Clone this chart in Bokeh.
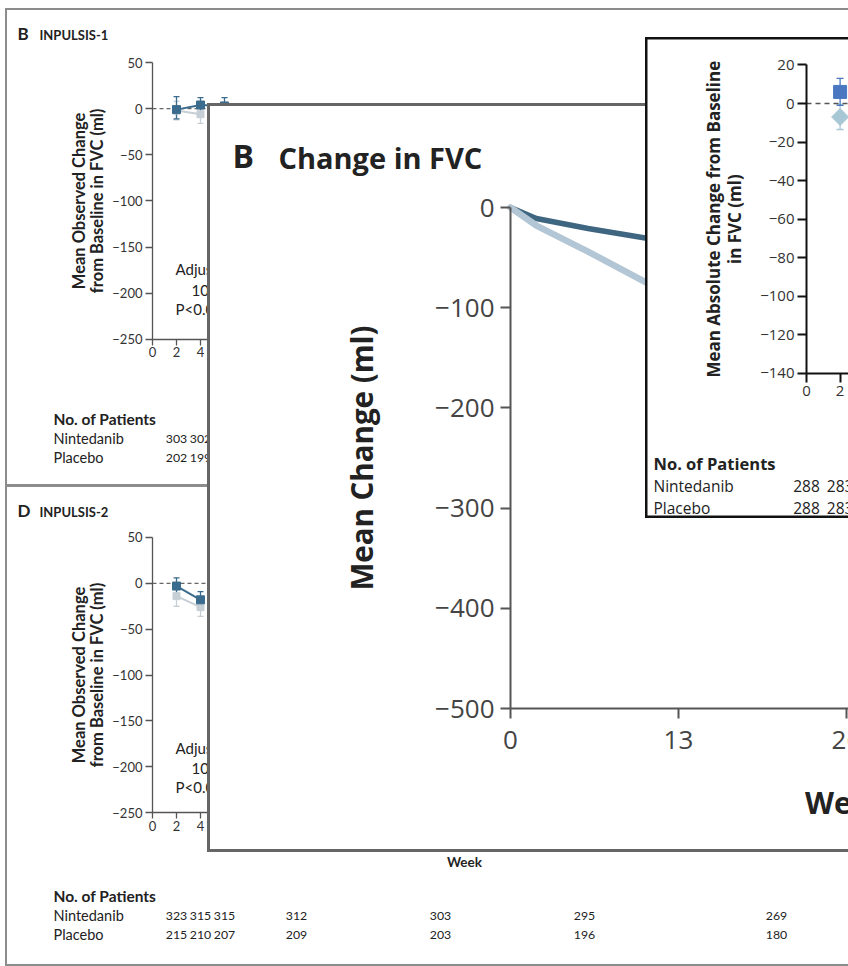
import math
from bokeh.plotting import figure
from bokeh.models import (LinearAxis, FixedTicker, Range1d, ColumnDataSource,
                          Whisker, TeeHead, Column)
from bokeh.embed import file_html
from bokeh.resources import INLINE
from bokeh.core.properties import value

# ---------------- data ----------------
# Panel B, INPULSIS-1 (top left)
b_nin_weeks = [2, 4, 6]
b_nin = [-1, 4, 3]
b_nin_lo = [-11, -4, -6]
b_nin_hi = [13, 12, 12]
b_pbo_weeks = [2, 4]
b_pbo = [-2, -6]
b_pbo_lo = [-12, -16]
b_pbo_hi = [8, 4]
b_count_weeks = [2, 4]
b_count_nin = ["303", "302"]
b_count_pbo = ["202", "199"]

# Panel D, INPULSIS-2 (bottom left)
d_weeks = [2, 4]
d_nin = [-3, -18]
d_nin_lo = [-12, -27]
d_nin_hi = [6, -9]
d_pbo = [-14, -26]
d_pbo_lo = [-25, -36]
d_pbo_hi = [-3, -15]
d_count_weeks = [2, 4, 6, 12, 24, 36, 52]
d_count_nin = ["323", "315", "315", "312", "303", "295", "269"]
d_count_pbo = ["215", "210", "207", "209", "203", "196", "180"]

left_x_ticks = [0, 2, 4, 6, 12, 24, 36, 52]
left_y_ticks = [50, 0, -50, -100, -150, -200, -250]

# Main panel "Change in FVC"
main_weeks = [0, 2, 6, 13, 26, 39, 52]
main_nin = [0, -11, -21, -36, -62, -88, -114]
main_pbo = [0, -18, -44, -92, -178, -262, -345]
main_x_ticks = [0, 13, 26, 39, 52]
main_y_ticks = [0, -100, -200, -300, -400, -500]

# Inset panel
inset_weeks = [2]
inset_nin = [6]
inset_nin_lo = [-1]
inset_nin_hi = [13]
inset_pbo = [-7]
inset_pbo_lo = [-13.5]
inset_pbo_hi = [-0.5]
inset_count_weeks = [0, 2]
inset_count_nin = ["288", "283"]
inset_count_pbo = ["288", "283"]
inset_x_ticks = [0, 2, 4, 6, 12, 24, 36, 52]
inset_y_ticks = [20, 0, -20, -40, -60, -80, -100, -120, -140]

DARK = "#3b6b8d"
LIGHT = "#c6cfd6"
MAIN_DARK = "#3f6680"
MAIN_LIGHT = "#b3c6d5"
INSET_NIN = "#4a78c0"
INSET_PBO = "#a8c7d5"

PAGE_W = 848


def minus(v):
    return str(v).replace("-", "\u2212")


class Panel:
    def __init__(self, left, top, width, height, x0, xs, y0, ys, border, bw):
        self.x0, self.xs, self.y0, self.ys = x0, xs, y0, ys
        xr = Range1d((left - x0) / xs, (left + width - x0) / xs)
        yr = Range1d((y0 - (top + height)) / ys, (y0 - top) / ys)
        p = figure(width=width, height=height, x_range=xr, y_range=yr,
                   x_axis_type=None, y_axis_type=None, output_backend="svg",
                   toolbar_location=None, min_border=0)
        p.outline_line_color = border
        p.outline_line_width = bw
        p.background_fill_color = "white"
        p.border_fill_color = "white"
        p.styles = {"position": "absolute", "left": f"{left}px", "top": f"{top}px",
                    "max-width": "none"}
        self.p = p

    def dx(self, px):
        return (px - self.x0) / self.xs

    def dy(self, py):
        return (self.y0 - py) / self.ys

    def text(self, px, py, s, font, size, bold=False, align="left", color="#222", angle=0.0):
        self.p.text(x=[self.dx(px)], y=[self.dy(py)], text=[s], text_font=value(font),
                    text_font_size=value(f"{size}px"),
                    text_font_style="bold" if bold else "normal",
                    text_align=align, text_baseline="middle", text_color=color, angle=angle)

    def vtext(self, px, y, s, font, size):
        self.p.text(x=[self.dx(px)], y=[y], text=[s], text_font=value(font),
                    text_font_size=value(f"{size}px"), text_font_style="bold",
                    text_align="center", text_baseline="middle", text_color="#222",
                    angle=math.pi / 2)

    def htext(self, x, py, s, font, size):
        self.p.text(x=[x], y=[self.dy(py)], text=[s], text_font=value(font),
                    text_font_size=value(f"{size}px"), text_font_style="bold",
                    text_align="center", text_baseline="middle", text_color="#222")

    def row(self, weeks, py, labels, font, size):
        self.p.text(x=weeks, y=[self.dy(py)] * len(weeks), text=labels, text_font=value(font),
                    text_font_size=value(f"{size}px"), text_align="center",
                    text_baseline="middle", text_color="#222")

    def axes(self, xticks, yticks, font, size, color, line_color, lw, tick_x, tick_y,
             so_x, so_y, xlabel="", xlabel_size=12, xlabel_so=10, ylabel="",
             ylabel_size=12, ylabel_so=10):
        xa = LinearAxis(fixed_location=yticks[-1], bounds=(xticks[0], xticks[-1]),
                        ticker=FixedTicker(ticks=xticks),
                        major_label_overrides={t: minus(t) for t in xticks})
        ya = LinearAxis(fixed_location=xticks[0], bounds=(yticks[-1], yticks[0]),
                        ticker=FixedTicker(ticks=yticks),
                        major_label_overrides={t: minus(t) for t in yticks})
        for ax, tk, so in ((xa, tick_x, so_x), (ya, tick_y, so_y)):
            ax.axis_line_color = line_color
            ax.axis_line_width = lw
            ax.major_tick_line_color = line_color
            ax.major_tick_line_width = lw
            ax.major_tick_out = tk
            ax.major_tick_in = 0
            ax.minor_tick_out = 0
            ax.minor_tick_in = 0
            ax.major_label_standoff = so
            ax.major_label_text_font = font
            ax.major_label_text_font_size = f"{size}px"
            ax.major_label_text_color = color
            ax.axis_label_text_font = font
            ax.axis_label_text_font_style = "bold"
            ax.axis_label_text_color = "#222"
        xa.axis_label = xlabel
        xa.axis_label_text_font_size = f"{xlabel_size}px"
        xa.axis_label_standoff = xlabel_so
        ya.axis_label = ylabel
        ya.axis_label_text_font_size = f"{ylabel_size}px"
        ya.axis_label_standoff = ylabel_so
        self.p.add_layout(xa, "below")
        self.p.add_layout(ya, "left")

    def series(self, weeks, y, lo, hi, color, marker, size, lw=2.0, cap=6, angle=0.0,
               line=True):
        src = ColumnDataSource(dict(x=weeks, y=y, lo=lo, hi=hi))
        w = Whisker(source=src, base="x", lower="lo", upper="hi", dimension="height",
                    line_color=color, line_width=1.3, level="underlay",
                    lower_head=TeeHead(size=cap, line_color=color, line_width=1.3),
                    upper_head=TeeHead(size=cap, line_color=color, line_width=1.3))
        self.p.add_layout(w)
        if line:
            self.p.line("x", "y", source=src, line_color=color, line_width=lw)
        self.p.scatter("x", "y", source=src, marker=marker, size=size, angle=angle,
                       fill_color=color, line_color=color)


LF = "Lato"
OF = "Open Sans"


def left_panel(top, height, y0, ys, letter, name, nin, pbo, counts, ytext):
    P = Panel(5, top, PAGE_W, height, 152, 12.0, y0, ys, "#8c8c8c", 3)
    P.axes(left_x_ticks, left_y_ticks, LF, 13, "#333", "#555", 1.3, 6, 7, 2, 3,
           xlabel="Week", xlabel_size=13.5, xlabel_so=20)
    zero = [left_x_ticks[0], left_x_ticks[-1]]
    P.p.line(zero, [0, 0], line_color="#666", line_width=1.2, line_dash="4 3")
    P.series(*pbo, LIGHT, "square", 7)
    P.series(*nin, DARK, "square", 8)
    P.text(17, top + 25, letter, LF, 17, bold=True)
    P.text(39, top + 26, name, LF, 13, bold=True)
    ymid = (left_y_ticks[0] + left_y_ticks[-1]) / 2
    P.vtext(78, ymid, "Mean Observed Change", LF, 16.5)
    P.vtext(96, ymid, "from Baseline in FVC (ml)", LF, 16.5)
    t1, t2, t3 = ytext
    P.text(175, t1, "Adjusted difference,", LF, 15)
    P.text(191, t2, "109.9 ml", LF, 15)
    P.text(175, t3, "P<0.001", LF, 15)
    cw, cn, cp = counts
    P.text(53, top + 410, "No. of Patients", LF, 15.5, bold=True)
    P.text(53, top + 430, "Nintedanib", LF, 14.5)
    P.text(53, top + 449, "Placebo", LF, 14.5)
    P.row(cw, top + 430, cn, LF, 12.3)
    P.row(cw, top + 449, cp, LF, 12.3)
    return P


PB = left_panel(8, 478, 108.2, 0.922, "B", "INPULSIS-1",
                (b_nin_weeks, b_nin, b_nin_lo, b_nin_hi),
                (b_pbo_weeks, b_pbo, b_pbo_lo, b_pbo_hi),
                (b_count_weeks, b_count_nin, b_count_pbo), (268, 289, 308))
PD = left_panel(485, 481, 582.8, 0.917, "D", "INPULSIS-2",
                (d_weeks, d_nin, d_nin_lo, d_nin_hi),
                (d_weeks, d_pbo, d_pbo_lo, d_pbo_hi),
                (d_count_weeks, d_count_nin, d_count_pbo), (747, 767, 786))

# ---- main panel ----
PM = Panel(207, 103, PAGE_W, 749, 510, 12.92, 207, 1.002, "#666666", 5)
PM.axes(main_x_ticks, main_y_ticks, OF, 26, "#444", "#555", 2, 10, 10, 12, 6,
        ylabel="Mean Change (ml)", ylabel_size=29.5, ylabel_so=50)
PM.p.line(main_weeks, main_nin, line_color=MAIN_DARK, line_width=5.5, line_cap="round",
          line_join="round")
PM.p.line(main_weeks, main_pbo, line_color=MAIN_LIGHT, line_width=6.5, line_cap="round",
          line_join="round")
PM.htext((main_x_ticks[0] + main_x_ticks[-1]) / 2, 802, "Week", OF, 30)
PM.text(232, 155, "B", OF, 32, bold=True)
PM.text(278, 157, "Change in FVC", OF, 29, bold=True)

# ---- inset panel ----
PI = Panel(645, 37, PAGE_W, 481, 806, 16.8, 103, 1.9275, "#111111", 4)
PI.axes(inset_x_ticks, inset_y_ticks, OF, 15, "#333", "#111", 2, 9, 9, 4, 3)
PI.p.line([inset_x_ticks[0], inset_x_ticks[-1]], [0, 0], line_color="#555", line_width=1.3,
          line_dash="5 4")
PI.series(inset_weeks, inset_pbo, inset_pbo_lo, inset_pbo_hi, INSET_PBO, "square", 12,
          angle=math.pi / 4, line=False, cap=7)
PI.series(inset_weeks, inset_nin, inset_nin_lo, inset_nin_hi, INSET_NIN, "square", 13,
          line=False, cap=7)
iy = (inset_y_ticks[0] + inset_y_ticks[-1]) / 2
PI.vtext(713, iy, "Mean Absolute Change from Baseline", OF, 17)
PI.vtext(734, iy, "in FVC (ml)", OF, 17)
PI.text(653, 463, "No. of Patients", OF, 16.5, bold=True)
PI.text(653, 485, "Nintedanib", OF, 15.5)
PI.text(653, 507, "Placebo", OF, 15.5)
PI.row(inset_count_weeks, 485, inset_count_nin, OF, 15.5)
PI.row(inset_count_weeks, 507, inset_count_pbo, OF, 15.5)

root = Column(children=[PB.p, PD.p, PM.p, PI.p], width=PAGE_W, height=966,
              sizing_mode="fixed",
              styles={"position": "relative", "overflow": "hidden", "width": "848px",
                      "height": "966px", "background": "white"})

open("out.html", "w").write(file_html(root, INLINE))
